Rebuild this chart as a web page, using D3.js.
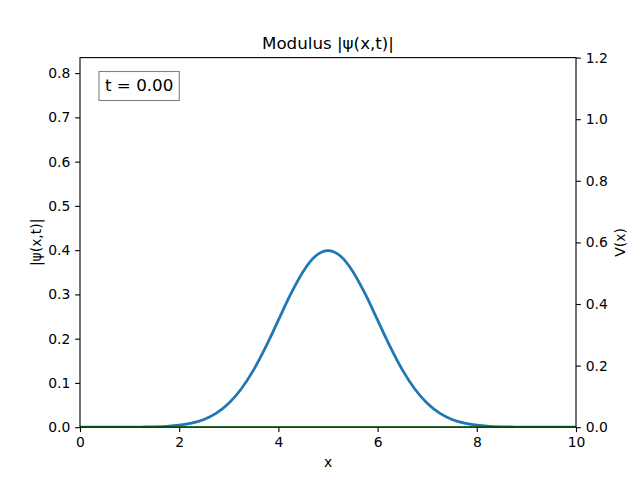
<!DOCTYPE html>
<html>
<head>
<meta charset="utf-8">
<script src="https://cdn.jsdelivr.net/npm/d3@7/dist/d3.min.js"></script>
<style>
  body { margin: 0; background: #fff; }
  svg { display: block; font-family: "DejaVu Sans", sans-serif; }
</style>
</head>
<body>
<svg id="chart" width="640" height="480"></svg>
<script>
// values
const xs = [0, 0.5, 1, 1.25, 1.5, 1.75, 2, 2.25, 2.5, 2.75, 3, 3.25, 3.5, 3.75, 4, 4.25, 4.5, 4.75,
  5, 5.25, 5.5, 5.75, 6, 6.25, 6.5, 6.75, 7, 7.25, 7.5, 7.75, 8, 8.25, 8.5, 8.75, 9, 9.5, 10];
const psiAbs = [0, 0, 0.0001, 0.0004, 0.0009, 0.002, 0.0044, 0.0091, 0.0175, 0.0317, 0.054, 0.0863,
  0.1295, 0.1826, 0.242, 0.3011, 0.352, 0.3867, 0.3989, 0.3867, 0.352, 0.3011, 0.242, 0.1826,
  0.1295, 0.0863, 0.054, 0.0317, 0.0175, 0.0091, 0.0044, 0.002, 0.0009, 0.0004, 0.0001, 0, 0];
const potential = [0, 0, 0, 0, 0, 0, 0, 0, 0, 0, 0, 0, 0, 0, 0, 0, 0, 0,
  0, 0, 0, 0, 0, 0, 0, 0, 0, 0, 0, 0, 0, 0, 0, 0, 0, 0, 0];
const xTicks = [0, 2, 4, 6, 8, 10];
const psiTicks = [0, 0.1, 0.2, 0.3, 0.4, 0.5, 0.6, 0.7, 0.8];
const vTicks = [0, 0.2, 0.4, 0.6, 0.8, 1.0, 1.2];
const timeLabel = "t = 0.00";

const svg = d3.select("#chart");
const mLeft = 80, mRight = 576, mTop = 57.6, mBottom = 427.2;

const x = d3.scaleLinear().domain([0, 10]).range([mLeft, mRight]);
const yPsi = d3.scaleLinear().domain([0, 0.835]).range([mBottom, mTop]);
const yV = d3.scaleLinear().domain([0, 1.2]).range([mBottom, mTop]);

svg.append("clipPath").attr("id", "clip")
  .append("rect").attr("x", mLeft).attr("y", mTop)
  .attr("width", mRight - mLeft).attr("height", mBottom - mTop);

const plot = svg.append("g").attr("clip-path", "url(#clip)");

plot.append("path")
  .datum(xs.map((d, i) => [d, psiAbs[i]]))
  .attr("fill", "none")
  .attr("stroke", "#1f77b4")
  .attr("stroke-width", 2.78)
  .attr("stroke-linejoin", "round")
  .attr("d", d3.line().x(d => x(d[0])).y(d => yPsi(d[1])).curve(d3.curveMonotoneX));

plot.append("path")
  .datum(xs.map((d, i) => [d, potential[i]]))
  .attr("fill", "none")
  .attr("stroke", "green")
  .attr("stroke-width", 2.08)
  .attr("d", d3.line().x(d => x(d[0])).y(d => yV(d[1])));

function style(g) {
  g.selectAll(".domain").remove();
  g.selectAll(".tick line").attr("stroke", "#000").attr("stroke-width", 1.1);
  g.selectAll(".tick text").attr("font-size", 13.9).attr("fill", "#000")
    .attr("font-family", "DejaVu Sans");
}

svg.append("g").attr("transform", `translate(0,${mBottom})`)
  .call(d3.axisBottom(x).tickValues(xTicks).tickFormat(d3.format("d")).tickSize(4.86).tickPadding(4.86))
  .call(style);

svg.append("g").attr("transform", `translate(${mLeft},0)`)
  .call(d3.axisLeft(yPsi).tickValues(psiTicks).tickFormat(d3.format(".1f")).tickSize(4.86).tickPadding(4.86))
  .call(style);

svg.append("g").attr("transform", `translate(${mRight},0)`)
  .call(d3.axisRight(yV).tickValues(vTicks).tickFormat(d3.format(".1f")).tickSize(4.86).tickPadding(4.86))
  .call(style);

// spines
svg.append("rect")
  .attr("x", mLeft).attr("y", mTop)
  .attr("width", mRight - mLeft).attr("height", mBottom - mTop)
  .attr("fill", "none").attr("stroke", "#000").attr("stroke-width", 1.1);

// title and axis labels
svg.append("text").attr("x", (mLeft + mRight) / 2).attr("y", 49)
  .attr("text-anchor", "middle").attr("font-size", 16.7).text("Modulus |ψ(x,t)|");

svg.append("text").attr("x", (mLeft + mRight) / 2).attr("y", 467)
  .attr("text-anchor", "middle").attr("font-size", 13.9).text("x");

svg.append("text").attr("transform", `translate(41,${(mTop + mBottom) / 2}) rotate(-90)`)
  .attr("text-anchor", "middle").attr("font-size", 13.9).text("|ψ(x,t)|");

svg.append("text").attr("transform", `translate(625,${(mTop + mBottom) / 2}) rotate(-90)`)
  .attr("text-anchor", "middle").attr("font-size", 13.9).text("V(x)");

// time box
const tb = svg.append("g");
const tt = tb.append("text").attr("x", 105).attr("y", 91)
  .attr("font-size", 16.7).text(timeLabel);
const bb = tt.node().getBBox();
tb.insert("rect", "text")
  .attr("x", 99).attr("y", 71.5)
  .attr("width", bb.width + 12).attr("height", 29)
  .attr("fill", "#fff").attr("fill-opacity", 0.8)
  .attr("stroke", "#808080").attr("stroke-width", 1.1);
</script>
</body>
</html>
